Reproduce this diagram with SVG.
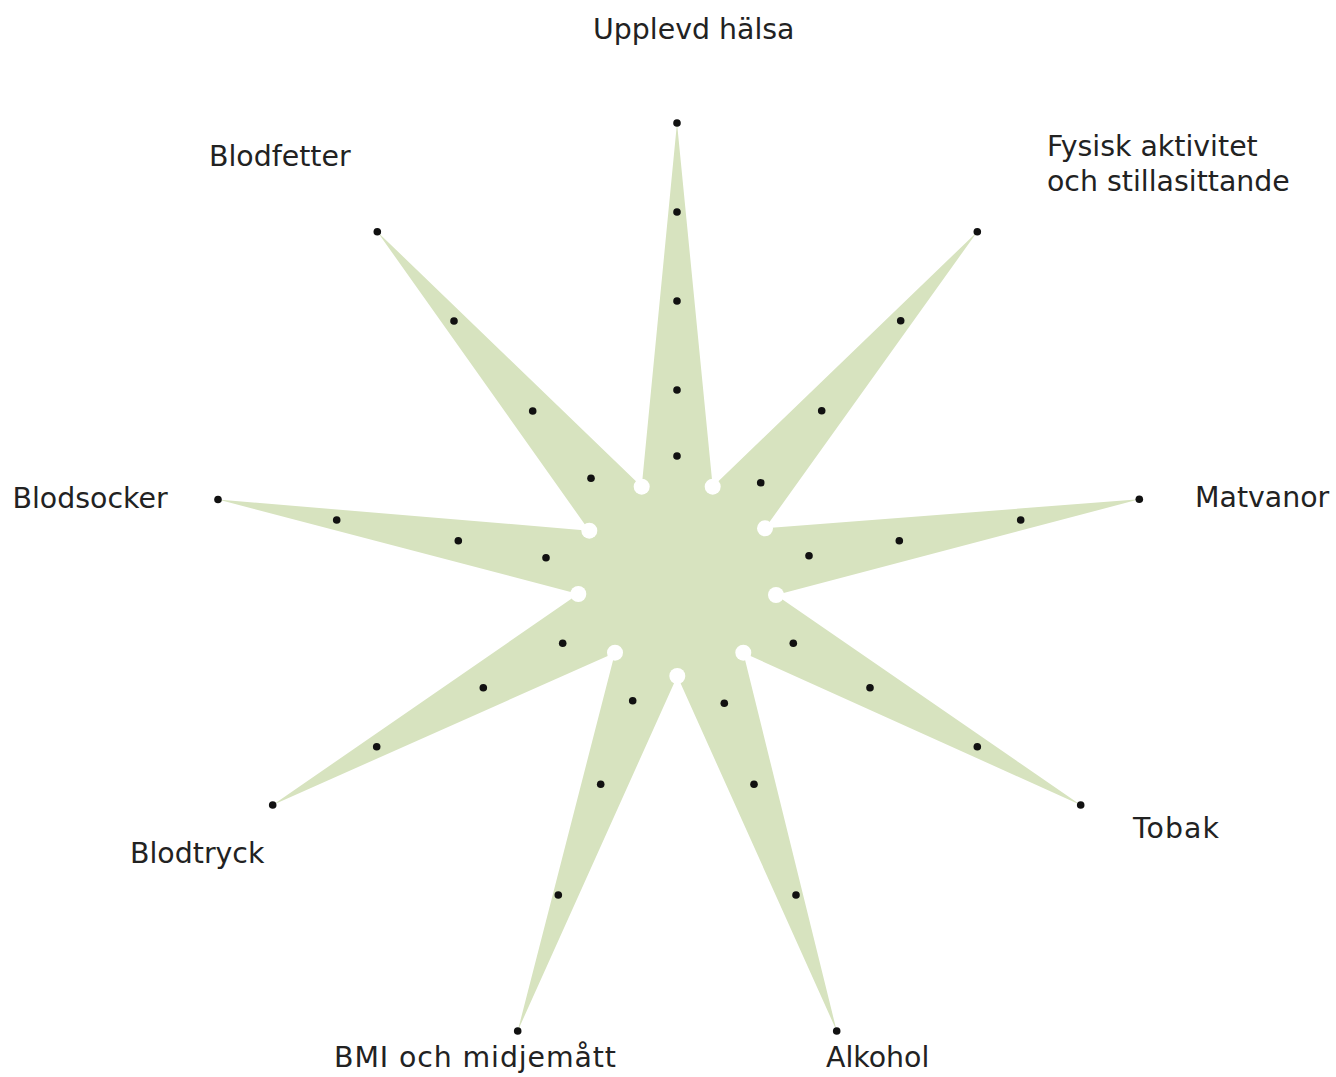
<svg xmlns="http://www.w3.org/2000/svg" width="1336" height="1077" viewBox="0 0 1336 1077">
  <style>
    .lbl { font-family: "DejaVu Sans", Verdana, "Liberation Sans", sans-serif; font-size: 28.4px; fill: #222222; }
    .star { fill: #d7e3bf; stroke: none; }
    .dot { fill: #111111; }
    .hole { fill: #ffffff; }
  </style>
  <defs>
    <circle id="d" r="3.8" class="dot"/>
    <circle id="h" r="8" class="hole"/>
  </defs>
  <rect width="1336" height="1077" fill="#ffffff"/>

  <g id="star">
    <polygon class="star" points="677,123 712.7,486.7 977.3,231.7 765,528.3 1139.3,499.3 776,595 1080.7,805 743.3,652.7 836.7,1031 677.3,676 517.7,1031 615,652.7 272.7,805 578.3,594 218,499.5 589.3,530.7 377.3,231.7 641.7,486.7"/>
  </g>

  <g id="connectors"></g>

  <g id="valleys">
    <use href="#h" x="712.7" y="486.7"/>
    <use href="#h" x="765" y="528.3"/>
    <use href="#h" x="776" y="595"/>
    <use href="#h" x="743.3" y="652.7"/>
    <use href="#h" x="677.3" y="676"/>
    <use href="#h" x="615" y="652.7"/>
    <use href="#h" x="578.3" y="594"/>
    <use href="#h" x="589.3" y="530.7"/>
    <use href="#h" x="641.7" y="486.7"/>
  </g>

  <g id="node-upplevd-halsa">
    <use href="#d" x="677" y="123"/>
    <use href="#d" x="677" y="212"/>
    <use href="#d" x="677" y="301"/>
    <use href="#d" x="677" y="390"/>
    <use href="#d" x="677" y="456"/>
    <text class="lbl" x="593" y="39">Upplevd hälsa</text>
  </g>

  <g id="node-fysisk-aktivitet">
    <use href="#d" x="977.3" y="231.7"/>
    <use href="#d" x="900.7" y="320.7"/>
    <use href="#d" x="821.7" y="410.7"/>
    <use href="#d" x="760.7" y="482.7"/>
    <text class="lbl" x="1047" y="156">Fysisk aktivitet</text>
    <text class="lbl" x="1047" y="191">och stillasittande</text>
  </g>

  <g id="node-matvanor">
    <use href="#d" x="1139.3" y="499.3"/>
    <use href="#d" x="1020.7" y="520"/>
    <use href="#d" x="899.3" y="540.7"/>
    <use href="#d" x="809" y="555.7"/>
    <text class="lbl" x="1195" y="507">Matvanor</text>
  </g>

  <g id="node-tobak">
    <use href="#d" x="1080.7" y="805"/>
    <use href="#d" x="977.3" y="746.7"/>
    <use href="#d" x="870" y="687.7"/>
    <use href="#d" x="793.3" y="643.3"/>
    <text class="lbl" x="1133" y="838" textLength="86">Tobak</text>
  </g>

  <g id="node-alkohol">
    <use href="#d" x="836.7" y="1031"/>
    <use href="#d" x="796" y="895"/>
    <use href="#d" x="754" y="784.3"/>
    <use href="#d" x="724.3" y="703.3"/>
    <text class="lbl" x="826" y="1067">Alkohol</text>
  </g>

  <g id="node-bmi">
    <use href="#d" x="517.7" y="1031"/>
    <use href="#d" x="558.3" y="895"/>
    <use href="#d" x="600.7" y="784.3"/>
    <use href="#d" x="632.7" y="700.7"/>
    <text class="lbl" x="334" y="1067" textLength="282">BMI och midjemått</text>
  </g>

  <g id="node-blodtryck">
    <use href="#d" x="272.7" y="805"/>
    <use href="#d" x="376.7" y="746.7"/>
    <use href="#d" x="483.3" y="687.7"/>
    <use href="#d" x="562.7" y="643.3"/>
    <text class="lbl" x="130" y="863">Blodtryck</text>
  </g>

  <g id="node-blodsocker">
    <use href="#d" x="218" y="499.5"/>
    <use href="#d" x="336.7" y="520"/>
    <use href="#d" x="458.3" y="540.7"/>
    <use href="#d" x="546" y="557.7"/>
    <text class="lbl" x="12.5" y="507.5">Blodsocker</text>
  </g>

  <g id="node-blodfetter">
    <use href="#d" x="377.3" y="231.7"/>
    <use href="#d" x="454" y="321"/>
    <use href="#d" x="532.7" y="411"/>
    <use href="#d" x="591" y="478.3"/>
    <text class="lbl" x="209" y="166">Blodfetter</text>
  </g>
</svg>
